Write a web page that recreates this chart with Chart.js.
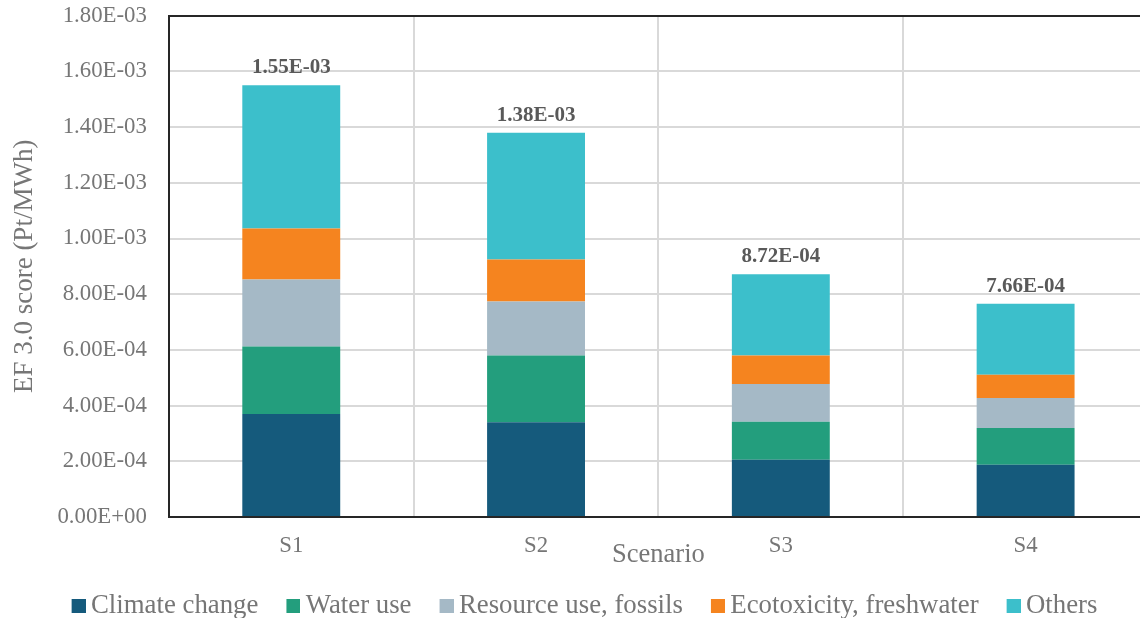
<!DOCTYPE html>
<html>
<head>
<meta charset="utf-8">
<script src="https://cdn.jsdelivr.net/npm/chart.js@4.4.1/dist/chart.umd.min.js"></script>
<style>
  html, body { margin: 0; padding: 0; background: #ffffff; overflow: hidden; }
  #wrap { position: relative; width: 1168px; height: 618px; }
</style>
</head>
<body>
<div id="wrap"><canvas id="chart" width="1168" height="618"></canvas></div>
<script>
// EF 3.0 single score per impact category, Pt/MWh
const scenarios = ['S1', 'S2', 'S3', 'S4'];
const climateChange    = [3.70e-4, 3.40e-4, 2.06e-4, 1.88e-4];
const waterUse         = [2.42e-4, 2.40e-4, 1.36e-4, 1.32e-4];
const resourceFossils  = [2.41e-4, 1.94e-4, 1.36e-4, 1.07e-4];
const ecotoxFreshwater = [1.83e-4, 1.51e-4, 1.02e-4, 0.84e-4];
const others           = [5.14e-4, 4.55e-4, 2.92e-4, 2.55e-4];

const seriesNames  = ['Climate change', 'Water use', 'Resource use, fossils', 'Ecotoxicity, freshwater', 'Others'];
const seriesValues = [climateChange, waterUse, resourceFossils, ecotoxFreshwater, others];
const seriesColors = ['#155a7c', '#239e7d', '#a5b9c6', '#f5841f', '#3cbfcb'];

const yMin = 0, yMax = 1.8e-3, yStep = 2e-4;

const FONT = '"Liberation Serif", "Times New Roman", serif';
const GREY = '#767676';
const AXIS = '#262626';
const GRID = '#d9d9d9';
const NONE = 'rgba(0,0,0,0)';

// 1.55e-3 -> "1.55E-03"
function sci(v) {
  const [m, e] = v.toExponential(2).split('e');
  const n = parseInt(e, 10);
  return m + 'E' + (n < 0 ? '-' : '+') + String(Math.abs(n)).padStart(2, '0');
}

// legend swatch: a 14px square sitting on the right of a 30px sprite,
// so the label text follows the square closely
function swatch(color) {
  const c = document.createElement('canvas');
  c.width = 30; c.height = 14;
  const g = c.getContext('2d');
  g.fillStyle = color;
  g.fillRect(16, 0, 14, 14);
  return c;
}
const swatches = seriesColors.map(swatch);

// stack totals written above each bar
const totalLabels = {
  id: 'totalLabels',
  afterDatasetsDraw(chart) {
    const { ctx } = chart;
    const top = chart.getDatasetMeta(chart.data.datasets.length - 1);
    ctx.save();
    ctx.font = 'bold 21px ' + FONT;
    ctx.fillStyle = '#595959';
    ctx.textAlign = 'center';
    ctx.textBaseline = 'alphabetic';
    top.data.forEach((bar, i) => {
      const total = chart.data.datasets.reduce((s, d) => s + d.data[i], 0);
      ctx.fillText(sci(total), bar.x, bar.y - 12);
    });
    ctx.restore();
  }
};

new Chart(document.getElementById('chart'), {
  type: 'bar',
  data: {
    labels: scenarios,
    datasets: seriesNames.map((name, k) => ({
      label: name,
      data: seriesValues[k],
      backgroundColor: seriesColors[k],
      borderWidth: 0,
      categoryPercentage: 0.4,
      barPercentage: 1.0
    }))
  },
  options: {
    responsive: false,
    animation: false,
    layout: { padding: { top: 0, right: 20, bottom: -11, left: 13 } },
    plugins: {
      tooltip: { enabled: false },
      legend: {
        position: 'bottom',
        labels: {
          usePointStyle: true,
          boxWidth: 14,
          boxHeight: 14,
          padding: 20,
          color: GREY,
          font: { family: FONT, size: 26.8 },
          generateLabels(chart) {
            return Chart.defaults.plugins.legend.labels.generateLabels(chart)
              .map((item, k) => Object.assign(item, { pointStyle: swatches[k] }));
          }
        }
      }
    },
    scales: {
      x: {
        stacked: true,
        grid: {
          offset: true,
          drawTicks: false,
          lineWidth: 2,
          color: (c) => (c.index === 0 ? NONE : GRID)
        },
        border: { display: true, color: AXIS, width: 2 },
        ticks: { color: GREY, padding: 15, font: { family: FONT, size: 22.8 } },
        title: {
          display: true,
          text: 'Scenario',
          color: GREY,
          font: { family: FONT, size: 26.5 },
          padding: { top: -35, bottom: 1 }
        }
      },
      y: {
        stacked: true,
        min: yMin,
        max: yMax,
        grid: {
          drawTicks: true,
          tickLength: 20,
          tickColor: NONE,
          lineWidth: 2,
          color: (c) => {
            if (c.tick && c.tick.value >= yMax - yStep / 10) return AXIS;
            if (c.index === 0) return NONE;
            return GRID;
          }
        },
        border: { display: true, color: AXIS, width: 2 },
        ticks: {
          stepSize: yStep,
          color: GREY,
          padding: 2,
          font: { family: FONT, size: 22.8 },
          callback: (v) => sci(v)
        },
        title: {
          display: true,
          text: 'EF 3.0 score (Pt/MWh)',
          color: GREY,
          font: { family: FONT, size: 27 },
          padding: { top: -4, bottom: 14 }
        }
      }
    }
  },
  plugins: [totalLabels]
});
</script>
</body>
</html>
